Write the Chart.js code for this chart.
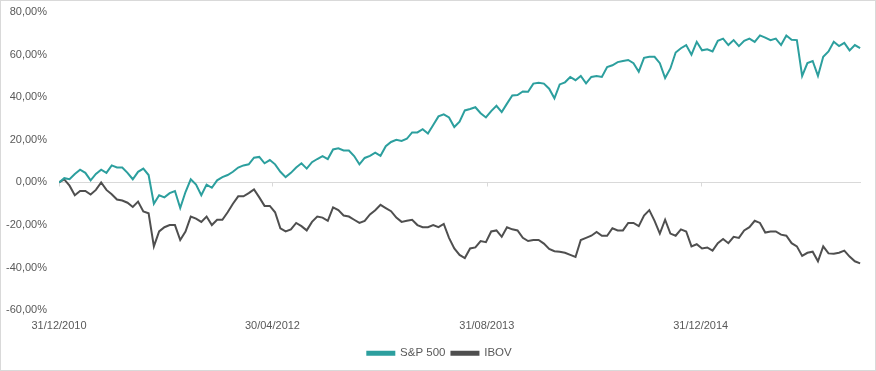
<!DOCTYPE html>
<html>
<head>
<meta charset="utf-8">
<script src="https://cdn.jsdelivr.net/npm/chart.js@4/dist/chart.umd.min.js"></script>
<style>
  html, body { margin: 0; padding: 0; background: #fff; }
  #wrap { width: 876px; height: 371px; position: relative; }
</style>
</head>
<body>
<div id="wrap"><canvas id="chart"></canvas></div>
<script>
// values sampled every 12 days starting 31/12/2010, cumulative return in %
const startDate = '31/12/2010';
const stepDays = 12;
const lastDay = 1826; // 31/12/2015

const sp500 = [
  0, 2, 1.5, 4, 6, 4.5, 1, 4, 6, 4.5,
  8, 7, 7, 4.5, 1.5, 5, 6.5, 3.5, -10, -6,
  -7, -5, -4, -12, -4.5, 1.5, -1, -6, -1, -2.5,
  1, 2.5, 3.5, 5, 7, 8, 8.5, 11.6, 12, 9,
  10.5, 8.5, 5, 2.5, 4.5, 7, 9, 6.5, 9.5, 11,
  12.4, 11, 15.5, 16, 15, 15, 12.4, 8.5, 11.5, 12.5,
  14, 12.5, 17, 19, 20, 19.5, 20.5, 23.5, 23.5, 25,
  23, 27, 31, 32, 30.5, 26, 28.5, 33.8, 34.5, 35.3,
  32.5, 30.5, 33.5, 36, 33, 37, 40.8, 41, 42.7, 42.6,
  46.4, 46.8, 46.4, 44, 39.5, 46, 47, 49.5, 48, 50,
  46.5, 49.5, 50, 49.5, 54.2, 55, 56.5, 57, 57.5, 56,
  52, 58.5, 59, 59, 56, 49, 53.5, 61, 63, 64.5,
  60, 66, 62, 62.5, 61.5, 66.5, 67.5, 64.5, 66.8, 64,
  66.5, 67.5, 66, 69, 68, 66.8, 67.5, 64.5, 69, 67,
  66.8, 50, 56, 57, 50, 59, 61.5, 66, 64, 65.5,
  62, 64.5, 63
];

const ibov = [
  0, 1.4, -1.5, -6, -4, -4, -5.7, -3.5, 0, -3.5,
  -5.5, -8, -8.5, -9.5, -11.5, -9, -13.6, -14.5, -30, -23,
  -21, -20, -20, -27, -23, -16, -17, -18.5, -16, -20,
  -17.5, -17.5, -14, -10, -6.5, -6.5, -5, -3.3, -7, -11,
  -11, -14, -21.5, -23, -22, -19, -20.5, -22.5, -18.5, -16,
  -16.5, -18, -11.7, -13, -15.5, -16, -17.5, -19, -18, -15,
  -13, -10.5, -12, -13.5, -16.5, -18.5, -18, -17.5, -20, -21,
  -21, -20, -21, -19.5, -26, -31, -34, -35.5, -31, -30.5,
  -27.5, -28, -23, -22.5, -25.5, -21, -22, -22.5, -26, -27.5,
  -27, -27, -28.7, -31.2, -32.3, -32.5, -33, -34, -35, -27,
  -26, -25, -23.2, -25, -25, -21.5, -22.5, -22.5, -19, -19,
  -20.5, -15.5, -13, -18, -24, -17.5, -24, -25, -22, -23,
  -30, -29, -31, -30.5, -32, -28.5, -26.5, -28.5, -25.5, -26,
  -22.5, -21, -18, -19, -23.5, -23, -23, -24.5, -25, -28.5,
  -30, -34.5, -33, -32.5, -37, -30, -33.3, -33.5, -33, -32,
  -34.8, -37, -38
];

const tickDays = [0, 486, 974, 1461];
const tickLabels = ['31/12/2010', '30/04/2012', '31/08/2013', '31/12/2014'];
const yTicks = [-60, -40, -20, 0, 20, 40, 60, 80];

const seriesNames = ['S&P 500', 'IBOV'];
const seriesColors = ['#2c9f9e', '#4f4f4f'];

function toPoints(vals) {
  return vals.map((v, i) => ({ x: i * stepDays, y: v }));
}

const fmtPct = v => v.toFixed(2).replace('.', ',') + '%';

// zero line tick marks + outer frame, nudge legend
const extras = {
  id: 'extras',
  afterLayout(chart) {
    chart.legend.left += 6;
    chart.legend.right += 6;
  },
  beforeDraw(chart) {
    const ctx = chart.ctx;
    ctx.save();
    ctx.strokeStyle = '#d9d9d9';
    ctx.lineWidth = 1;
    ctx.strokeRect(0.5, 0.5, chart.width - 1, chart.height - 1);
    const xs = chart.scales.x, ys = chart.scales.y;
    const y0 = Math.round(ys.getPixelForValue(0)) + 0.5;
    ctx.beginPath();
    ctx.moveTo(chart.chartArea.left, y0);
    ctx.lineTo(chart.chartArea.right, y0);
    tickDays.forEach(d => {
      const px = Math.round(xs.getPixelForValue(d)) + 0.5;
      ctx.moveTo(px, y0);
      ctx.lineTo(px, y0 + 4);
    });
    ctx.stroke();
    ctx.restore();
  }
};

Chart.defaults.font.family = "'Liberation Sans', Arial, sans-serif";
Chart.defaults.font.size = 11;
Chart.defaults.color = '#595959';

new Chart(document.getElementById('chart'), {
  type: 'line',
  data: {
    datasets: [
      { label: seriesNames[0], data: toPoints(sp500), borderColor: seriesColors[0], backgroundColor: seriesColors[0] },
      { label: seriesNames[1], data: toPoints(ibov), borderColor: seriesColors[1], backgroundColor: seriesColors[1] }
    ]
  },
  options: {
    responsive: true,
    maintainAspectRatio: false,
    animation: false,
    layout: { padding: { top: 12, left: 6, right: 15, bottom: 2 } },
    elements: {
      line: { borderWidth: 2, tension: 0 },
      point: { radius: 0 }
    },
    scales: {
      x: {
        type: 'linear',
        min: 0,
        max: lastDay,
        grid: { display: false, drawTicks: false },
        border: { display: false },
        afterBuildTicks: s => { s.ticks = tickDays.map(v => ({ value: v })); },
        ticks: {
          padding: 9,
          maxRotation: 0,
          autoSkip: false,
          callback: v => tickLabels[tickDays.indexOf(v)]
        }
      },
      y: {
        min: -60,
        max: 80,
        grid: { display: true, drawOnChartArea: false, drawTicks: true, tickLength: 12, color: 'rgba(0,0,0,0)' },
        border: { display: false },
        afterBuildTicks: s => { s.ticks = yTicks.map(v => ({ value: v })); },
        afterFit: s => { s.width = 53; },
        ticks: { padding: 0, callback: v => fmtPct(v) }
      }
    },
    plugins: {
      legend: {
        position: 'bottom',
        labels: { boxWidth: 27, boxHeight: 3, padding: 6, font: { size: 11.5 } }
      },
      tooltip: { enabled: false }
    }
  },
  plugins: [extras]
});
</script>
</body>
</html>
